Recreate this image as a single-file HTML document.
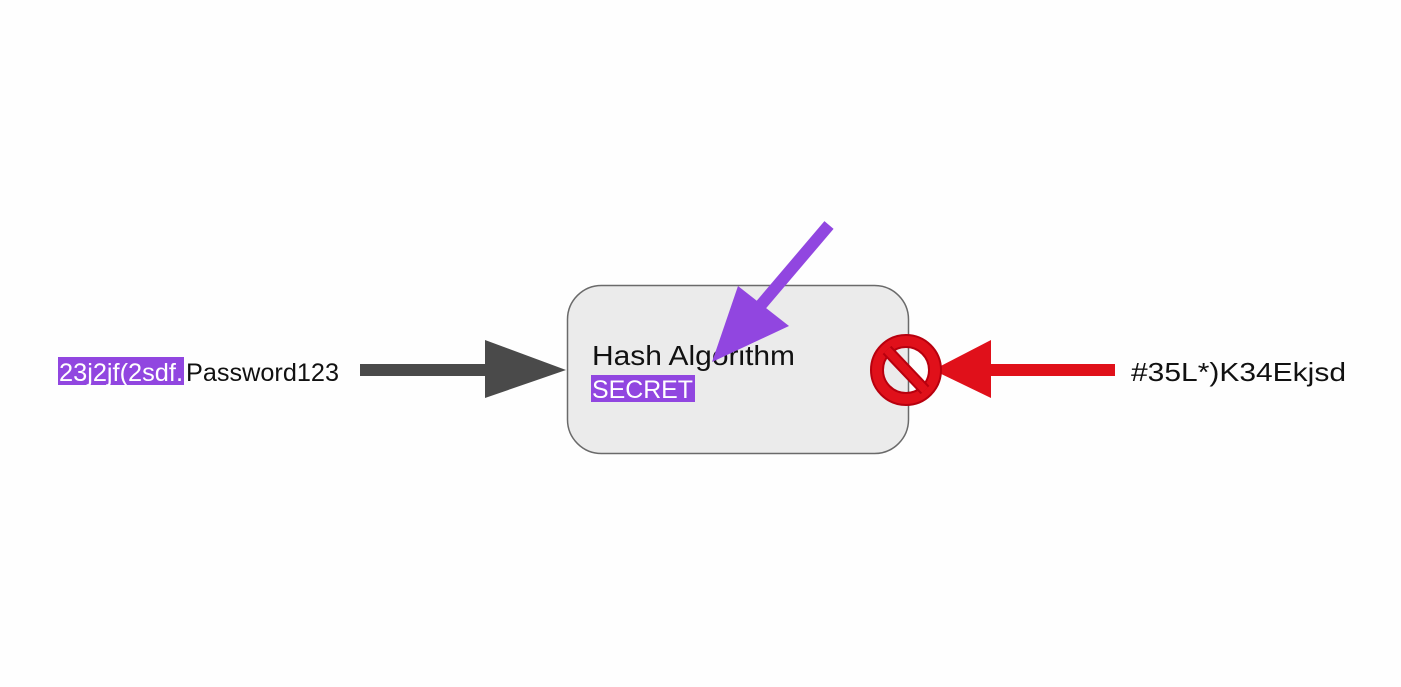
<!DOCTYPE html>
<html><head><style>
html,body{margin:0;padding:0;background:#fff;width:1401px;height:687px;overflow:hidden}
text{font-family:"Liberation Sans",Arial,sans-serif}
</style></head><body>
<svg width="1401" height="687" xmlns="http://www.w3.org/2000/svg">
<rect x="0" y="0" width="1401" height="687" fill="#fefefe"/>
<rect x="567.5" y="285.5" width="341" height="168" rx="34" fill="#ebebeb" stroke="#6a6a6a" stroke-width="1.5"/>
<text x="592" y="365" font-size="28" fill="#111" textLength="203" lengthAdjust="spacingAndGlyphs">Hash Algorithm</text>
<rect x="591" y="375" width="104" height="27" fill="#9146e0"/>
<text x="592" y="398" font-size="25" fill="#fff" textLength="101" lengthAdjust="spacingAndGlyphs">SECRET</text>
<line x1="829" y1="225" x2="755" y2="312" stroke="#9146e0" stroke-width="12"/>
<polygon points="712,362 738,286 789,326" fill="#9146e0"/>
<rect x="58" y="357" width="126" height="28" fill="#9146e0"/>
<text x="59" y="381" font-size="25" fill="#fff" textLength="124" lengthAdjust="spacingAndGlyphs">23j2jf(2sdf.</text>
<text x="186" y="381" font-size="25" fill="#111" textLength="153" lengthAdjust="spacingAndGlyphs">Password123</text>
<rect x="360" y="364" width="127" height="12" fill="#4a4a4a"/>
<polygon points="485,340 566,370 485,398" fill="#4a4a4a"/>
<rect x="988" y="364" width="127" height="12" fill="#e0101a"/>
<polygon points="991,340 933,370 991,398" fill="#e0101a"/>
<circle cx="906" cy="370" r="29" fill="none" stroke="#b8000e" stroke-width="14"/>
<circle cx="906" cy="370" r="29" fill="none" stroke="#e0101a" stroke-width="10"/>
<line x1="887" y1="350" x2="925" y2="390" stroke="#b8000e" stroke-width="12"/>
<line x1="887" y1="350" x2="925" y2="390" stroke="#e0101a" stroke-width="8"/>
<text x="1131" y="381" font-size="26" fill="#111" textLength="215" lengthAdjust="spacingAndGlyphs">#35L*)K34Ekjsd</text>
</svg>
</body></html>
